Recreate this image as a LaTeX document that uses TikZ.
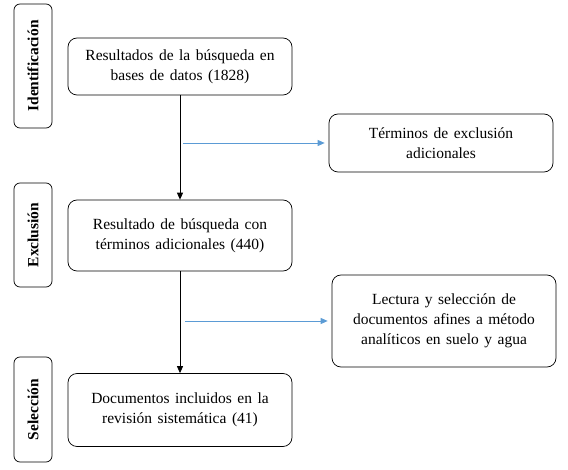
\documentclass[tikz,border=0pt]{standalone}
\usepackage{fontspec}
\setmainfont{Liberation Serif}
\usetikzlibrary{arrows.meta}
\definecolor{linkblue}{RGB}{91,155,213}
\tikzset{
  stagetab/.style={draw, line width=0.7pt, rounded corners=6pt, minimum width=38pt, inner sep=0pt,
    font=\fontsize{15.5}{17}\selectfont\bfseries},
  flowbox/.style={draw, line width=0.7pt, rounded corners=9pt, minimum width=224pt, inner sep=2pt,
    align=center, font={\fontsize{15.5}{20}\selectfont\spaceskip=5.5pt plus 1pt\relax}},
  downarrow/.style={line width=0.8pt, -{Triangle[length=7pt,width=6pt]}},
  sidearrow/.style={linkblue, line width=0.8pt, -{Triangle[length=7pt,width=6pt]}, shorten >=4pt}
}
\begin{document}
\begin{tikzpicture}[x=1pt, y=-1pt]
% Fix the canvas to the reference size
\useasboundingbox (0,0) rectangle (568,470);

% Stage tabs on the left
\node[stagetab, minimum height=124pt] (idtab) at (33, 66) {\rotatebox{90}{Identificación}};
\node[stagetab, minimum height=104pt] (exctab) at (33, 235) {\rotatebox{90}{Exclusión}};
\node[stagetab, minimum height=105pt] (seltab) at (33, 409.5) {\rotatebox{90}{Selección}};

% Main flow boxes
\node[flowbox, minimum height=57pt] (busq) at (180, 66.5) {Resultados de la búsqueda en\\bases de datos (1828)};
\node[flowbox, minimum height=71pt] (res) at (180, 235.5) {Resultado de búsqueda con\\términos adicionales (440)};
\node[flowbox, minimum height=73pt] (docs) at (180, 410) {Documentos incluidos en la\\revisión sistemática (41)};

% Exclusion boxes on the right
\node[flowbox, minimum height=58pt] (excl) at (441, 143) {Términos de exclusión\\adicionales};
\node[flowbox, minimum height=92pt] (lect) at (444, 321) {Lectura y selección de\\documentos afines a método\\analíticos en suelo y agua};

% Arrows
\draw[downarrow] (busq) -- (res);
\draw[downarrow] (res) -- (docs);
\coordinate (exclstart) at (183, 143);
\coordinate (lectstart) at (185, 321);
\draw[sidearrow] (exclstart) -- (excl.west);
\draw[sidearrow] (lectstart) -- (lect.west);
\end{tikzpicture}
\end{document}
